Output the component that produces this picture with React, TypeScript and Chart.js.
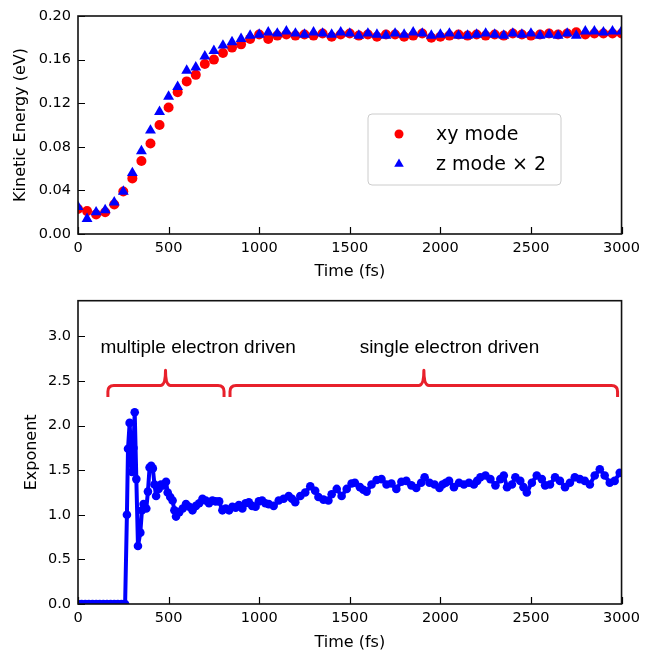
import React, { useEffect, useRef } from 'react';
import { Chart, registerables } from 'chart.js';

Chart.register(...registerables);

// ---------- Top panel data: kinetic energy (eV) ----------
const keTimes = [
  0, 50, 100, 150, 200, 250, 300, 350, 400, 450, 500, 550, 600, 650, 700, 750, 800, 850, 900, 950,
  1000, 1050, 1100, 1150, 1200, 1250, 1300, 1350, 1400, 1450, 1500, 1550, 1600, 1650, 1700, 1750,
  1800, 1850, 1900, 1950, 2000, 2050, 2100, 2150, 2200, 2250, 2300, 2350, 2400, 2450, 2500, 2550,
  2600, 2650, 2700, 2750, 2800, 2850, 2900, 2950, 3000,
];
const xyMode = [
  0.023, 0.021, 0.018, 0.020, 0.027, 0.039, 0.051, 0.067, 0.083, 0.100, 0.116, 0.130, 0.140, 0.146,
  0.156, 0.160, 0.166, 0.171, 0.174, 0.179, 0.183, 0.179, 0.182, 0.183, 0.182, 0.183, 0.182, 0.184,
  0.181, 0.183, 0.184, 0.182, 0.183, 0.181, 0.183, 0.183, 0.181, 0.182, 0.184, 0.180, 0.181, 0.182,
  0.183, 0.182, 0.183, 0.182, 0.183, 0.182, 0.184, 0.183, 0.182, 0.183, 0.184, 0.183, 0.184, 0.185,
  0.183, 0.184, 0.184, 0.184, 0.184,
];
const zModeX2 = [
  0.025, 0.014, 0.020, 0.022, 0.029, 0.039, 0.056, 0.076, 0.095, 0.112, 0.126, 0.135, 0.150, 0.153,
  0.163, 0.168, 0.173, 0.176, 0.179, 0.182, 0.183, 0.185, 0.184, 0.186, 0.184, 0.183, 0.185, 0.184,
  0.183, 0.185, 0.184, 0.182, 0.184, 0.183, 0.182, 0.184, 0.183, 0.185, 0.184, 0.182, 0.183, 0.184,
  0.182, 0.182, 0.183, 0.184, 0.183, 0.182, 0.184, 0.183, 0.184, 0.182, 0.183, 0.182, 0.184, 0.182,
  0.186, 0.186, 0.185, 0.186, 0.186,
];

// ---------- Bottom panel data: exponent ----------
const expTimes = [
  0, 20, 40, 60, 80, 100, 120, 140, 160, 180, 200, 220, 240, 260,
  270, 276, 285, 298, 306, 313, 322, 331, 344, 353, 362, 377, 386, 395, 404, 413, 422, 431, 445, 458,
  472, 486, 495, 509, 522, 532, 541, 559, 578, 596, 614, 632, 651, 669, 687, 705, 723, 742, 760, 779,
  797, 815, 834, 852, 870, 888, 907, 925, 943, 961, 980, 998, 1016, 1034, 1053, 1080, 1108, 1135,
  1163, 1181, 1199, 1227, 1254, 1282, 1309, 1327, 1355, 1382, 1400, 1428, 1455, 1483, 1510, 1528,
  1556, 1575, 1593, 1620, 1648, 1675, 1703, 1730, 1757, 1785, 1812, 1840, 1867, 1894, 1913, 1940,
  1968, 1995, 2012, 2030, 2048, 2075, 2103, 2130, 2158, 2185, 2203, 2221, 2249, 2276, 2304, 2331,
  2350, 2368, 2395, 2414, 2441, 2459, 2477, 2505, 2532, 2560, 2578, 2605, 2633, 2660, 2688, 2715,
  2742, 2770, 2797, 2825, 2852, 2880, 2907, 2935, 2962, 2990,
];
const exponent = [
  0, 0, 0, 0, 0, 0, 0, 0, 0, 0, 0, 0, 0, 0,
  1.00, 1.74, 2.03, 1.48, 1.75, 2.15, 1.40, 0.65, 0.80, 1.05, 1.12, 1.07, 1.26, 1.53, 1.55, 1.52,
  1.34, 1.21, 1.29, 1.34, 1.33, 1.37, 1.25, 1.20, 1.16, 1.05, 0.98, 1.03, 1.07, 1.12, 1.09, 1.05,
  1.10, 1.13, 1.18, 1.16, 1.13, 1.16, 1.15, 1.15, 1.05, 1.07, 1.05, 1.09, 1.08, 1.11, 1.07, 1.13,
  1.14, 1.10, 1.09, 1.15, 1.16, 1.13, 1.12, 1.10, 1.16, 1.18, 1.21, 1.18, 1.14, 1.21, 1.25, 1.32,
  1.27, 1.20, 1.17, 1.16, 1.23, 1.29, 1.21, 1.29, 1.35, 1.36, 1.31, 1.28, 1.26, 1.34, 1.39, 1.40,
  1.34, 1.35, 1.29, 1.37, 1.38, 1.33, 1.30, 1.36, 1.42, 1.36, 1.34, 1.30, 1.34, 1.36, 1.38, 1.31,
  1.36, 1.34, 1.36, 1.34, 1.38, 1.42, 1.44, 1.40, 1.33, 1.40, 1.44, 1.31, 1.34, 1.42, 1.38, 1.31,
  1.25, 1.36, 1.44, 1.40, 1.33, 1.34, 1.42, 1.38, 1.31, 1.36, 1.42, 1.40, 1.38, 1.34, 1.44, 1.51,
  1.44, 1.36, 1.38, 1.47,
];

// ---------- Annotations (data coordinates) ----------
const braceLabels = ['multiple electron driven', 'single electron driven'];
const braceLabelX = [663, 2050];
const braceLabelY = 2.87;
const braceStart = [165, 839];
const braceEnd = [806, 2978];
const braceTip = [483, 1909];
const braceLineY = 2.45;
const braceEndY = 2.32;
const braceTipY = 2.62;

const TICK_FONT = { family: 'DejaVu Sans', size: 14.5 };
const TITLE_FONT = { family: 'DejaVu Sans', size: 16, lineHeight: 1 };

const frameTicks = {
  id: 'frameTicks',
  afterDraw(chart: any) {
    const { ctx, chartArea: a, scales } = chart;
    ctx.save();
    ctx.strokeStyle = '#000';
    ctx.lineWidth = 1.2;
    const len = 7;
    ctx.beginPath();
    scales.x.ticks.forEach((t: any) => {
      const px = Math.round(scales.x.getPixelForValue(t.value)) + 0.5;
      ctx.moveTo(px, a.bottom);
      ctx.lineTo(px, a.bottom - len);
    });
    scales.y.ticks.forEach((t: any) => {
      const py = Math.round(scales.y.getPixelForValue(t.value)) + 0.5;
      ctx.moveTo(a.left, py);
      ctx.lineTo(a.left + len, py);
    });
    ctx.stroke();
    ctx.lineWidth = 1.6;
    ctx.strokeStyle = '#111';
    ctx.strokeRect(a.left, a.top, a.right - a.left, a.bottom - a.top);
    ctx.restore();
  },
};

const legendBox = {
  id: 'legendBox',
  afterDraw(chart: any) {
    const { ctx } = chart;
    const x0 = 368, y0 = 114, w = 193, h = 71, r = 4;
    ctx.save();
    ctx.beginPath();
    ctx.moveTo(x0 + r, y0);
    ctx.arcTo(x0 + w, y0, x0 + w, y0 + h, r);
    ctx.arcTo(x0 + w, y0 + h, x0, y0 + h, r);
    ctx.arcTo(x0, y0 + h, x0, y0, r);
    ctx.arcTo(x0, y0, x0 + w, y0, r);
    ctx.closePath();
    ctx.fillStyle = 'rgba(255,255,255,0.85)';
    ctx.fill();
    ctx.strokeStyle = '#cccccc';
    ctx.lineWidth = 1;
    ctx.stroke();
    const rows = [
      { ds: chart.data.datasets[1], y: 134 },
      { ds: chart.data.datasets[0], y: 164 },
    ];
    rows.forEach(({ ds, y }) => {
      ctx.fillStyle = ds.backgroundColor;
      ctx.beginPath();
      if (ds.pointStyle === 'triangle') {
        const s = 5.5;
        ctx.moveTo(399, y - s);
        ctx.lineTo(399 + s * 0.87, y + s * 0.5);
        ctx.lineTo(399 - s * 0.87, y + s * 0.5);
        ctx.closePath();
      } else {
        ctx.arc(399, y, 4.5, 0, Math.PI * 2);
      }
      ctx.fill();
      ctx.fillStyle = '#000';
      ctx.font = '19px "DejaVu Sans"';
      ctx.textBaseline = 'middle';
      ctx.textAlign = 'left';
      ctx.fillText(ds.label, 436, y + 1);
    });
    ctx.restore();
  },
};

const braces = {
  id: 'braces',
  afterDraw(chart: any) {
    const { ctx, scales } = chart;
    const X = (v: number) => scales.x.getPixelForValue(v);
    const Y = (v: number) => scales.y.getPixelForValue(v);
    ctx.save();
    ctx.strokeStyle = '#e8202b';
    ctx.lineWidth = 3;
    ctx.lineJoin = 'round';
    ctx.lineCap = 'butt';
    const rr = 6;
    braceStart.forEach((s, i) => {
      const xL = X(s), xR = X(braceEnd[i]), xT = X(braceTip[i]);
      const yL = Y(braceLineY), yE = Y(braceEndY), yT = Y(braceTipY);
      ctx.beginPath();
      ctx.moveTo(xL, yE);
      ctx.lineTo(xL, yL + rr);
      ctx.quadraticCurveTo(xL, yL, xL + rr, yL);
      ctx.lineTo(xT - 5, yL);
      ctx.quadraticCurveTo(xT, yL, xT, yT);
      ctx.quadraticCurveTo(xT, yL, xT + 5, yL);
      ctx.lineTo(xR - rr, yL);
      ctx.quadraticCurveTo(xR, yL, xR, yL + rr);
      ctx.lineTo(xR, yE);
      ctx.stroke();
    });
    ctx.fillStyle = '#000';
    ctx.font = '19px "Liberation Sans"';
    ctx.textAlign = 'center';
    ctx.textBaseline = 'middle';
    braceLabels.forEach((t, i) => ctx.fillText(t, X(braceLabelX[i]), Y(braceLabelY)));
    ctx.restore();
  },
};

function xScale(height: number, titlePad: number) {
  return {
    type: 'linear',
    min: 0,
    max: 3000,
    grid: { display: false, drawTicks: false },
    border: { display: false },
    ticks: {
      stepSize: 500,
      autoSkip: false,
      maxRotation: 0,
      padding: 6,
      color: '#000',
      font: TICK_FONT,
      callback: (v: any) => String(v),
    },
    title: { display: true, text: 'Time (fs)', color: '#000', font: TITLE_FONT, padding: { top: 0, bottom: titlePad } },
    afterFit: (s: any) => { s.height = height; },
  };
}

function yScale(max: number, step: number, digits: number, title: string, titlePad: number) {
  return {
    type: 'linear',
    min: 0,
    max,
    grid: { display: false, drawTicks: false },
    border: { display: false },
    ticks: {
      stepSize: step,
      includeBounds: false,
      padding: 7,
      color: '#000',
      font: TICK_FONT,
      callback: (v: any) => Number(v).toFixed(digits),
    },
    title: { display: true, text: title, color: '#000', font: TITLE_FONT, padding: { top: titlePad, bottom: 0 } },
    afterFit: (s: any) => { s.width = 78; },
  };
}

export default function App() {
  const topRef = useRef<HTMLCanvasElement>(null);
  const botRef = useRef<HTMLCanvasElement>(null);

  useEffect(() => {
    const top = new Chart(topRef.current as HTMLCanvasElement, {
      type: 'line',
      data: {
        datasets: [
          {
            label: 'z mode × 2',
            data: keTimes.map((t, i) => ({ x: t, y: zModeX2[i] })),
            showLine: false,
            pointStyle: 'triangle',
            pointRadius: 6.3,
            pointBorderWidth: 0,
            backgroundColor: '#0000ff',
            borderColor: '#0000ff',
            order: 0,
          },
          {
            label: 'xy mode',
            data: keTimes.map((t, i) => ({ x: t, y: xyMode[i] })),
            showLine: false,
            pointStyle: 'circle',
            pointRadius: 5,
            pointBorderWidth: 0,
            backgroundColor: '#ff0000',
            borderColor: '#ff0000',
            order: 1,
          },
        ],
      },
      options: {
        animation: false,
        responsive: false,
        events: [],
        layout: { padding: { top: 16, right: 21, left: 0, bottom: 0 } },
        plugins: { legend: { display: false }, tooltip: { enabled: false } },
        scales: {
          x: xScale(51, 5),
          y: yScale(0.2, 0.04, 2, 'Kinetic Energy (eV)', 12.5),
        },
      } as any,
      plugins: [frameTicks, legendBox],
    });

    const bot = new Chart(botRef.current as HTMLCanvasElement, {
      type: 'line',
      data: {
        datasets: [
          {
            label: 'Exponent',
            data: expTimes.map((t, i) => ({ x: t, y: exponent[i] })),
            borderColor: '#0000ff',
            backgroundColor: '#0000ff',
            borderWidth: 4,
            borderJoinStyle: 'round',
            pointRadius: 4.3,
            pointBorderWidth: 0,
            tension: 0,
          },
        ],
      },
      options: {
        animation: false,
        responsive: false,
        events: [],
        layout: { padding: { top: 10, right: 21, left: 0, bottom: 0 } },
        plugins: { legend: { display: false }, tooltip: { enabled: false } },
        scales: {
          x: xScale(47, 0),
          y: yScale(3.4, 0.5, 1, 'Exponent', 23.5),
        },
      } as any,
      plugins: [frameTicks, braces],
    });

    return () => {
      top.destroy();
      bot.destroy();
    };
  }, []);

  return (
    <div style={{ position: 'absolute', left: 0, top: 0, width: 646, height: 651, background: '#fff' }}>
      <canvas ref={topRef} width={646} height={285} style={{ position: 'absolute', left: 0, top: 0 }} />
      <canvas ref={botRef} width={646} height={366} style={{ position: 'absolute', left: 0, top: 285 }} />
    </div>
  );
}
